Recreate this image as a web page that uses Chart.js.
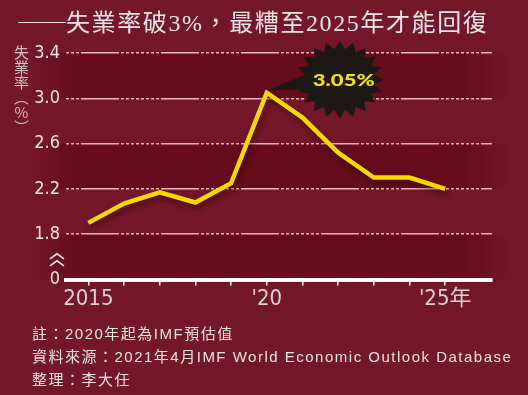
<!DOCTYPE html>
<html><head><meta charset="utf-8">
<script src="https://cdn.jsdelivr.net/npm/chart.js@4"></script>
<style>
html,body{margin:0;padding:0;width:528px;height:395px;overflow:hidden;background:#75172a;}
#wrap{position:relative;width:528px;height:395px;}
canvas{position:absolute;left:0;top:0;}
#title{position:absolute;left:18px;top:9px;font-size:24px;line-height:24px;color:#f1e6e8;font-family:"Liberation Serif","Noto Sans CJK TC",serif;white-space:nowrap;letter-spacing:1.6px;}
#title .d{font-family:"Noto Sans CJK TC",sans-serif;letter-spacing:0;}
#ytitle{position:absolute;left:13px;top:45px;writing-mode:vertical-rl;text-orientation:upright;font-size:15px;line-height:16px;color:#d4bfc3;font-family:"Noto Sans CJK TC",sans-serif;}
#notes{position:absolute;left:32px;top:322px;font-size:15px;line-height:23px;color:#ece4e6;font-family:"Liberation Sans","Noto Sans CJK TC",sans-serif;white-space:nowrap;letter-spacing:1.5px;}
</style></head>
<body>
<div id="wrap">
<canvas id="c" width="528" height="395"></canvas>
<div id="title"><span class="d">──</span>失業率破3%，最糟至2025年才能回復</div>
<div id="ytitle">失業率（%）</div>
<div id="notes">註：2020年起為IMF預估值<br>資料來源：2021年4月IMF World Economic Outlook Database<br>整理：李大任</div>
</div>
<script>
const years = [2015, 2016, 2017, 2018, 2019, 2020, 2021, 2022, 2023, 2024, 2025];
const unemployment = [1.9, 2.07, 2.17, 2.08, 2.25, 3.05, 2.83, 2.52, 2.3, 2.3, 2.2];
const yTickValues = [1.4, 1.8, 2.2, 2.6, 3.0, 3.4];
const yTickLabels = ['0', '1.8', '2.2', '2.6', '3.0', '3.4'];
const xLabelYears = [2015, 2020, 2025];
const xLabelTexts = ['2015', "'20", "'25年"];
const peakYear = 2020;
const peakValue = 3.05;
const peakLabel = '3.05%';

const condensed = "'Liberation Sans Narrow','DejaVu Sans Condensed','Roboto Condensed',Roboto,'Noto Sans CJK TC',sans-serif";

const bandsPlugin = {
  id: 'bands',
  beforeDraw(chart) {
    const {ctx, scales: {y}} = chart;
    const grad = ctx.createLinearGradient(30, 0, 512, 0);
    grad.addColorStop(0, 'rgba(95,8,22,0)');
    grad.addColorStop(0.1, 'rgba(95,8,22,0.7)');
    grad.addColorStop(0.9, 'rgba(95,8,22,0.7)');
    grad.addColorStop(1, 'rgba(95,8,22,0)');
    ctx.save();
    ctx.fillStyle = grad;
    for (let i = 0; i < yTickValues.length - 1; i += 2) {
      const top = y.getPixelForValue(yTickValues[i + 1]);
      const bot = y.getPixelForValue(yTickValues[i]);
      ctx.fillRect(30, top, 482, bot - top);
    }
    ctx.restore();
  }
};

const shadowPlugin = {
  id: 'lineShadow',
  beforeDatasetsDraw(chart) {
    const ctx = chart.ctx;
    ctx.save();
    ctx.shadowColor = 'rgba(40,0,5,0.55)';
    ctx.shadowBlur = 6;
    ctx.shadowOffsetX = 2;
    ctx.shadowOffsetY = 4;
  },
  afterDatasetsDraw(chart) {
    chart.ctx.restore();
  }
};

const calloutPlugin = {
  id: 'callout',
  afterDraw(chart) {
    const {ctx, scales: {x, y}} = chart;
    // axis break symbol
    const bx = 57;
    const b18 = y.getPixelForValue(1.8), b0 = y.getPixelForValue(1.4);
    const mid = (b18 + b0) / 2;
    ctx.save();
    ctx.strokeStyle = '#f3eaec';
    ctx.lineWidth = 1.6;
    [mid - 3, mid + 4].forEach(yy => {
      ctx.beginPath();
      ctx.moveTo(bx - 7, yy + 5);
      ctx.lineTo(bx, yy);
      ctx.lineTo(bx + 7, yy + 5);
      ctx.stroke();
    });
    ctx.restore();

    const px = x.getPixelForValue(peakYear);
    const py = y.getPixelForValue(peakValue);
    const cx = px + 73, cy = py - 13;
    ctx.save();
    ctx.fillStyle = '#1d1815';
    // tail
    ctx.beginPath();
    ctx.moveTo(px + 2, py - 3);
    ctx.lineTo(cx - 28, cy - 8);
    ctx.lineTo(cx - 33, cy + 10);
    ctx.closePath();
    ctx.fill();
    // starburst
    const n = 20, rx = 44, ry = 39, inner = 0.79;
    ctx.beginPath();
    for (let i = 0; i < 2 * n; i++) {
      const a = i * Math.PI / n - Math.PI / 2;
      const r = i % 2 === 0 ? 1 : inner;
      const xx = cx + Math.cos(a) * rx * r, yy = cy + Math.sin(a) * ry * r;
      if (i === 0) ctx.moveTo(xx, yy); else ctx.lineTo(xx, yy);
    }
    ctx.closePath();
    ctx.fill();
    // label
    ctx.translate(cx + 4, cy + 1);
    ctx.scale(1.3, 1);
    ctx.fillStyle = '#f0e01e';
    ctx.font = "900 17px Lato, 'Open Sans', sans-serif";
    ctx.textAlign = 'center';
    ctx.textBaseline = 'middle';
    ctx.fillText(peakLabel, 0, 0);
    ctx.restore();
  }
};

new Chart(document.getElementById('c'), {
  type: 'line',
  data: {
    datasets: [{
      data: years.map((yr, i) => ({x: yr, y: unemployment[i]})),
      borderColor: '#f7d900',
      borderWidth: 4.5,
      borderJoinStyle: 'miter',
      pointRadius: 0,
      tension: 0,
      fill: false
    }]
  },
  options: {
    responsive: false,
    devicePixelRatio: 1,
    animation: false,
    layout: {padding: {left: 0, right: 36, top: 53, bottom: 80}},
    plugins: {legend: {display: false}, tooltip: {enabled: false}, title: {display: false}},
    scales: {
      x: {
        type: 'linear',
        min: 2014.375,
        max: 2026.31,
        afterBuildTicks: s => { s.ticks = years.map(v => ({value: v})); },
        afterFit: s => { s.height = 35.5; },
        ticks: {
          autoSkip: false,
          maxRotation: 0,
          padding: 1,
          color: '#ddd2d5',
          font: {family: condensed, size: 22},
          callback: v => { const k = xLabelYears.indexOf(v); return k >= 0 ? xLabelTexts[k] : ''; }
        },
        grid: {drawOnChartArea: false, drawTicks: true, tickLength: 6, color: '#ffffff', lineWidth: 1.5},
        border: {display: true, color: '#ffffff', width: 4}
      },
      y: {
        type: 'linear',
        min: 1.4,
        max: 3.4,
        afterBuildTicks: s => { s.ticks = yTickValues.map(v => ({value: v})); },
        afterFit: s => { s.width = 66; },
        ticks: {
          padding: 6,
          color: '#efe6e8',
          font: {family: condensed, size: 18},
          callback: v => { const k = yTickValues.findIndex(t => Math.abs(t - v) < 1e-6); return k >= 0 ? yTickLabels[k] : ''; }
        },
        grid: {
          drawTicks: false,
          lineWidth: 1.5,
          color: c => (c.tick && Math.abs(c.tick.value - 1.4) < 1e-6) ? 'rgba(0,0,0,0)' : '#eab6be'
        },
        border: {display: false, dash: [38, 2, 3, 2, 3, 2, 3, 2, 3, 2, 3, 2, 3, 2, 3, 2, 3, 2], dashOffset: 65}
      }
    }
  },
  plugins: [bandsPlugin, shadowPlugin, calloutPlugin]
});
</script>
</body></html>
